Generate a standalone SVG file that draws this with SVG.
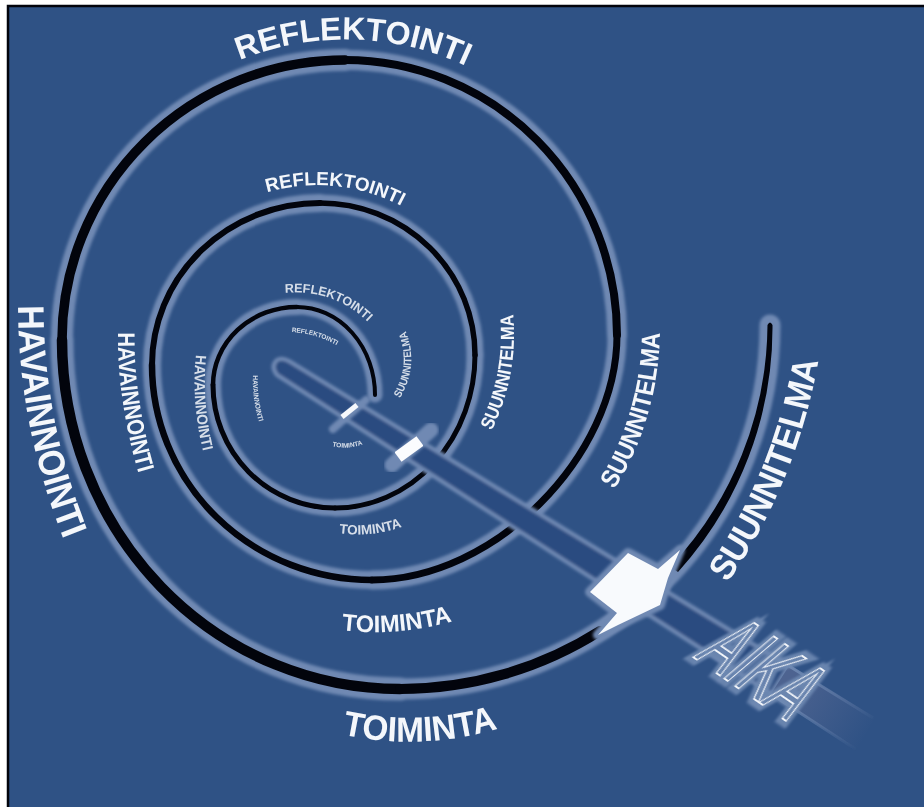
<svg xmlns="http://www.w3.org/2000/svg" width="924" height="807" viewBox="0 0 924 807">
<style>
.t{font-family:"Liberation Sans",Arial,sans-serif;font-weight:bold;fill:#f4f7fb;text-anchor:middle;filter:url(#soft)}
.n{filter:url(#soft2);opacity:.85}
.g{fill:none;stroke:#6f89b3;stroke-linecap:round;filter:url(#glow)}
.k{fill:none;stroke:#02040c;stroke-linecap:round}
.a{font-family:"Liberation Sans",Arial,sans-serif;font-size:92px;fill:none}
</style>
<defs>
<filter id="soft" x="-10%" y="-30%" width="120%" height="160%"><feGaussianBlur stdDeviation="0.6"/></filter>
<filter id="soft2" x="-20%" y="-40%" width="140%" height="180%"><feGaussianBlur stdDeviation="0.75"/></filter>
<filter id="glow" x="-20%" y="-20%" width="140%" height="140%"><feGaussianBlur stdDeviation="1.6"/></filter>
<linearGradient id="fadeEdge" gradientUnits="userSpaceOnUse" x1="780" y1="675" x2="868" y2="733">
<stop offset="0" stop-color="#6f89b3"/><stop offset="1" stop-color="#6f89b3" stop-opacity="0"/></linearGradient>
<linearGradient id="fadeFill" gradientUnits="userSpaceOnUse" x1="790" y1="680" x2="868" y2="733">
<stop offset="0" stop-color="#4d6390"/><stop offset="1" stop-color="#4d6390" stop-opacity="0"/></linearGradient>
<path id="a0" d="M375 395A78 88 0 0 0 297 307"/>
<path id="a1" d="M297 307A84 78 0 0 0 213 385"/>
<path id="a2" d="M213 385A122 123 0 0 0 335 508"/>
<path id="a3" d="M335 508A140 153 0 0 0 475 355"/>
<path id="a4" d="M475 355A155 152 0 0 0 320 203"/>
<path id="a5" d="M320 203A168 162 0 0 0 152 365"/>
<path id="a6" d="M152 365A220 215 0 0 0 372 580"/>
<path id="a7" d="M372 580C494 580 617 457 617 335"/>
<path id="a8" d="M617 335A272 275 0 0 0 345 60"/>
<path id="a9" d="M345 60A283 280 0 0 0 62 340"/>
<path id="a10" d="M62 340A338 349 0 0 0 400 689"/>
<path id="a11" d="M400 689A370 364 0 0 0 770 325"/>
<path id="r1" d="M235 62A284 284 0 0 1 470 68"/>
<path id="r2" d="M265 193A179 179 0 0 1 403 207"/>
<path id="r3" d="M282 293Q335 288 370 324"/>
<path id="r4" d="M290 332Q316 333 338 346"/>
<path id="s1" d="M728 582Q796 484 818 362"/>
<path id="s2" d="M613 492Q659 418 660 330"/>
<path id="s3" d="M491 432Q519 375 513 313"/>
<path id="s4" d="M399 400Q420 365 405 329"/>
<path id="t1" d="M340 734Q420 752 500 728"/>
<path id="t2" d="M340 630Q396 637 454 621"/>
<path id="t3" d="M337 533Q372 538 404 526"/>
<path id="t4" d="M331 446Q348 450 364 444"/>
<path id="h1" d="M18 305Q18 425 64 540"/>
<path id="h2" d="M118 331Q117 400 139 475"/>
<path id="h3" d="M196 355Q191 400 203 451"/>
<path id="h4" d="M253 375Q252 398 259 422"/>
</defs>
<rect width="924" height="807" fill="#fff"/>
<rect x="8" y="6" width="916" height="801" fill="#2f5285"/>
<path d="M8 807V6H924" fill="none" stroke="#02040c" stroke-width="2.5"/>

<g id="connectors">
<g id="spiral-glow" class="g">
<use href="#a0" stroke-width="15"/><use href="#a1" stroke-width="16"/><use href="#a2" stroke-width="16"/><use href="#a3" stroke-width="17"/>
<use href="#a4" stroke-width="17"/><use href="#a5" stroke-width="18"/><use href="#a6" stroke-width="18"/><use href="#a7" stroke-width="19"/>
<use href="#a8" stroke-width="20"/><use href="#a9" stroke-width="22"/><use href="#a10" stroke-width="23"/><use href="#a11" stroke-width="21"/>
</g>
<g id="spiral-line" class="k">
<use href="#a0" stroke-width="4"/><use href="#a1" stroke-width="4.5"/><use href="#a2" stroke-width="5"/><use href="#a3" stroke-width="5"/>
<use href="#a4" stroke-width="5.5"/><use href="#a5" stroke-width="6"/><use href="#a6" stroke-width="6.5"/><use href="#a7" stroke-width="7"/>
<use href="#a8" stroke-width="8"/><use href="#a9" stroke-width="9.5"/><use href="#a10" stroke-width="10.5"/>
<path d="M400 689A370 364 0 0 0 600 631" stroke-width="10"/>
<path d="M772.5 325Q770 320 767.5 325A366 360 0 0 1 670 567L678 572A374 368 0 0 0 772.5 325Z" fill="#02040c" stroke="none"/>
</g>
<g id="time-axis">
<path d="M289 361L789 666L771 694L277 375Q270 366 277 360Q282 357 289 361Z" fill="#2c4b80" stroke="#6f89b3" stroke-width="4" stroke-linejoin="round" filter="url(#glow)"/>
<path d="M789 666L875 717L857 750L771 694Z" fill="url(#fadeFill)"/>
<path d="M789 666L873 718M771 694L857 750" fill="none" stroke="url(#fadeEdge)" stroke-width="3" filter="url(#soft)"/>
</g>
</g>

<g id="marker-1">
<path d="M333 429L366 400" stroke="#6f89b3" stroke-width="8" stroke-linecap="round" filter="url(#glow)"/>
<path d="M342 417L357 405" stroke="#f6f8fc" stroke-width="5" filter="url(#soft)"/>
</g>
<g id="marker-2">
<path d="M392 465L431 430" stroke="#6f89b3" stroke-width="15" stroke-linecap="round" filter="url(#glow)"/>
<path d="M398 457L420 441" stroke="#fbfcfe" stroke-width="12" filter="url(#soft)"/>
</g>
<g id="marker-3">
<path d="M590 592L628 553L658 569L680 550L668 578L660 605L618 625L598 635L617 613Z" fill="#6f89b3" stroke="#6f89b3" stroke-width="10" stroke-linejoin="round" filter="url(#glow)"/>
<path d="M590 592L628 553L658 569L680 550L668 578L660 605L618 625L598 635L617 613Z" fill="#f8fafd" filter="url(#soft)"/>
</g>

<g id="aika">
<text class="a" transform="translate(693 657) rotate(34.5) skewX(-15) scale(.54 1)" stroke="#6f89b3" stroke-width="14" stroke-opacity=".9" filter="url(#glow)">AIKA</text>
<text class="a" transform="translate(693 657) rotate(34.5) skewX(-15) scale(.54 1)" stroke="#f1f4f9" stroke-width="1.7" filter="url(#soft)">AIKA</text>
</g>

<g id="reflektointi-labels">
<text class="t" font-size="32"><textPath href="#r1" startOffset="50%">REFLEKTOINTI</textPath></text>
<text class="t" font-size="19"><textPath href="#r2" startOffset="50%">REFLEKTOINTI</textPath></text>
<text class="t n" font-size="12.5"><textPath href="#r3" startOffset="50%">REFLEKTOINTI</textPath></text>
<text class="t n" font-size="6.5"><textPath href="#r4" startOffset="50%">REFLEKTOINTI</textPath></text>
</g>
<g id="suunnitelma-labels">
<text class="t" font-size="36"><textPath href="#s1" startOffset="50%" textLength="242" lengthAdjust="spacingAndGlyphs">SUUNNITELMA</textPath></text>
<text class="t" font-size="26"><textPath href="#s2" startOffset="50%" textLength="165" lengthAdjust="spacingAndGlyphs">SUUNNITELMA</textPath></text>
<text class="t" font-size="19"><textPath href="#s3" startOffset="50%" textLength="120" lengthAdjust="spacingAndGlyphs">SUUNNITELMA</textPath></text>
<text class="t n" font-size="11"><textPath href="#s4" startOffset="50%" textLength="70" lengthAdjust="spacingAndGlyphs">SUUNNITELMA</textPath></text>
</g>
<g id="toiminta-labels">
<text class="t" font-size="35"><textPath href="#t1" startOffset="50%" textLength="158" lengthAdjust="spacingAndGlyphs">TOIMINTA</textPath></text>
<text class="t" font-size="24"><textPath href="#t2" startOffset="50%" textLength="112" lengthAdjust="spacingAndGlyphs">TOIMINTA</textPath></text>
<text class="t n" font-size="13.5"><textPath href="#t3" startOffset="50%">TOIMINTA</textPath></text>
<text class="t n" font-size="6.5"><textPath href="#t4" startOffset="50%">TOIMINTA</textPath></text>
</g>
<g id="havainnointi-labels">
<text class="t" font-size="37"><textPath href="#h1" startOffset="50%" textLength="240" lengthAdjust="spacingAndGlyphs">HAVAINNOINTI</textPath></text>
<text class="t" font-size="24"><textPath href="#h2" startOffset="50%" textLength="143" lengthAdjust="spacingAndGlyphs">HAVAINNOINTI</textPath></text>
<text class="t n" font-size="15"><textPath href="#h3" startOffset="50%" textLength="97" lengthAdjust="spacingAndGlyphs">HAVAINNOINTI</textPath></text>
<text class="t n" font-size="7"><textPath href="#h4" startOffset="50%" textLength="47" lengthAdjust="spacingAndGlyphs">HAVAINNOINTI</textPath></text>
</g>
</svg>
